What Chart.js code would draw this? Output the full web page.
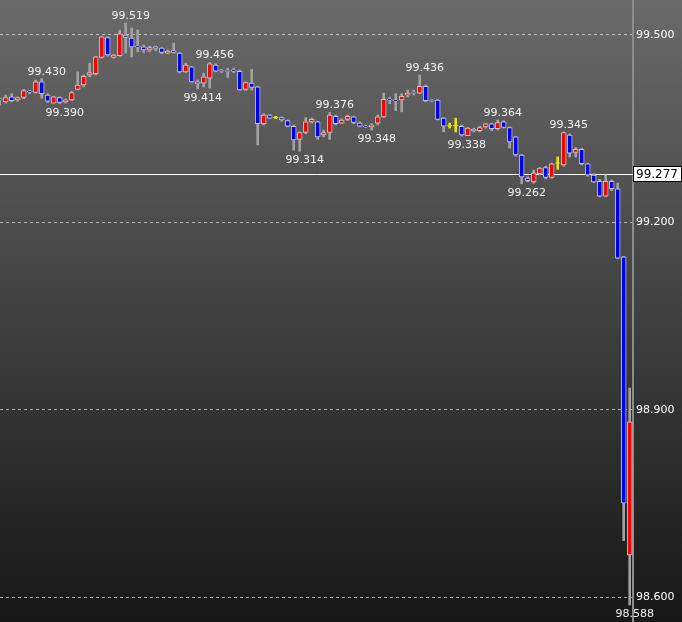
<!DOCTYPE html>
<html>
<head>
<meta charset="utf-8">
<script src="https://cdn.jsdelivr.net/npm/chart.js@4.4.0/dist/chart.umd.min.js"></script>
<style>
  html, body { margin: 0; padding: 0; background: #171717; }
  #wrap { width: 682px; height: 622px; }
</style>
</head>
<body>
<div id="wrap"><canvas id="chart" width="682" height="622"></canvas></div>
<script>
// candle values, one entry per bar (oldest first)
const opens = [99.398,99.393,99.401,99.396,99.400,99.410,99.408,99.425,99.404,99.391,
  99.400,99.393,99.396,99.413,99.420,99.436,99.438,99.464,99.496,99.464,
  99.467,99.500,99.495,99.482,99.481,99.476,99.481,99.479,99.471,99.475,
  99.471,99.441,99.449,99.425,99.423,99.431,99.452,99.443,99.443,99.444,
  99.442,99.413,99.423,99.417,99.358,99.372,99.368,99.368,99.363,99.354,
  99.333,99.344,99.361,99.361,99.340,99.344,99.370,99.359,99.365,99.369,
  99.359,99.354,99.353,99.359,99.369,99.397,99.396,99.396,99.404,99.408,
  99.407,99.418,99.395,99.396,99.367,99.355,99.355,99.354,99.339,99.349,
  99.347,99.353,99.358,99.350,99.361,99.352,99.337,99.308,99.271,99.265,
  99.278,99.288,99.272,99.295,99.292,99.340,99.312,99.317,99.294,99.276,
  99.266,99.242,99.266,99.254,99.145,98.668];
const highs = [99.399,99.404,99.406,99.401,99.413,99.412,99.428,99.430,99.406,99.402,
  99.401,99.398,99.410,99.441,99.436,99.455,99.466,99.498,99.497,99.469,
  99.508,99.519,99.511,99.508,99.484,99.482,99.482,99.480,99.476,99.487,
  99.472,99.455,99.450,99.428,99.439,99.456,99.454,99.445,99.447,99.447,
  99.444,99.425,99.445,99.418,99.374,99.373,99.370,99.369,99.364,99.356,
  99.345,99.368,99.367,99.362,99.348,99.376,99.372,99.366,99.372,99.370,
  99.361,99.356,99.358,99.372,99.407,99.400,99.406,99.406,99.412,99.412,
  99.436,99.420,99.397,99.397,99.368,99.359,99.367,99.356,99.352,99.351,
  99.354,99.359,99.359,99.364,99.363,99.353,99.338,99.309,99.273,99.284,
  99.288,99.290,99.295,99.305,99.345,99.342,99.320,99.319,99.295,99.278,
  99.269,99.276,99.268,99.263,99.146,98.935];
const lows = [99.388,99.391,99.393,99.394,99.398,99.406,99.407,99.399,99.392,99.391,
  99.390,99.391,99.395,99.412,99.417,99.433,99.436,99.463,99.466,99.463,
  99.466,99.471,99.465,99.473,99.472,99.473,99.475,99.470,99.470,99.471,
  99.439,99.440,99.424,99.414,99.417,99.415,99.441,99.440,99.432,99.440,
  99.411,99.411,99.412,99.324,99.356,99.366,99.366,99.362,99.353,99.316,
  99.314,99.342,99.359,99.333,99.337,99.333,99.356,99.358,99.363,99.358,
  99.353,99.352,99.348,99.356,99.368,99.390,99.379,99.377,99.401,99.404,
  99.406,99.393,99.393,99.364,99.345,99.351,99.345,99.338,99.339,99.345,
  99.345,99.351,99.347,99.348,99.351,99.319,99.306,99.262,99.265,99.263,
  99.276,99.270,99.271,99.285,99.290,99.305,99.305,99.292,99.274,99.264,
  99.241,99.241,99.251,99.142,98.691,98.588];
const closes = [99.396,99.400,99.395,99.400,99.411,99.409,99.425,99.406,99.394,99.401,
  99.392,99.396,99.408,99.420,99.434,99.440,99.465,99.497,99.468,99.468,
  99.502,99.496,99.481,99.481,99.476,99.480,99.479,99.472,99.474,99.472,
  99.441,99.452,99.425,99.422,99.433,99.454,99.442,99.442,99.442,99.442,
  99.412,99.424,99.416,99.358,99.372,99.367,99.368,99.364,99.354,99.332,
  99.344,99.361,99.365,99.337,99.344,99.372,99.358,99.364,99.370,99.360,
  99.354,99.353,99.356,99.369,99.397,99.396,99.395,99.402,99.407,99.407,
  99.418,99.395,99.394,99.365,99.354,99.355,99.355,99.340,99.351,99.347,
  99.352,99.358,99.350,99.360,99.352,99.329,99.308,99.273,99.267,99.279,
  99.287,99.272,99.294,99.295,99.344,99.311,99.317,99.294,99.276,99.265,
  99.242,99.266,99.254,99.143,98.751,98.881];

// local highs / lows that get a price tag
const markers = [[7,'high'],[10,'low'],[21,'high'],[33,'low'],[35,'high'],[50,'low'],
  [55,'high'],[62,'low'],[70,'high'],[77,'low'],[83,'high'],[87,'low'],[94,'high'],[105,'low']];

const tickValues = [98.600, 98.900, 99.200, 99.500];
const lastPrice = 99.277;
const yMin = 98.5608, yMax = 99.556;
const xMin = 0.05, xMax = 105.55;

const UP = '#ff0000', DOWN = '#0000ff', FLAT = '#e6e600';
const FONT = '"DejaVu Sans", Verdana, sans-serif';

const idx = opens.map((_, i) => i);
const bodyColor = idx.map(i => closes[i] > opens[i] ? UP : (closes[i] < opens[i] ? DOWN : FLAT));
const wickColor = idx.map(i => closes[i] === opens[i] ? FLAT : '#a2a2a2');
const dojis = idx.filter(i => closes[i] === opens[i]);

const bgPlugin = {
  id: 'bg',
  beforeDraw(chart) {
    const { ctx, width, height } = chart;
    const g = ctx.createLinearGradient(0, 0, 0, height);
    g.addColorStop(0, '#6a6a6a');
    g.addColorStop(1, '#171717');
    ctx.save();
    ctx.fillStyle = g;
    ctx.fillRect(0, 0, width, height);
    ctx.restore();
  }
};

// white line at the last price, behind the candles
const priceLine = {
  id: 'priceLine',
  beforeDatasetsDraw(chart) {
    const { ctx, chartArea } = chart;
    const y = Math.round(chart.scales.y.getPixelForValue(lastPrice)) + 0.5;
    ctx.save();
    ctx.strokeStyle = '#ffffff';
    ctx.lineWidth = 1;
    ctx.beginPath();
    ctx.moveTo(chartArea.left, y);
    ctx.lineTo(chartArea.right, y);
    ctx.stroke();
    ctx.restore();
  },
  afterDraw(chart) {
    const { ctx, chartArea, width } = chart;
    const y = Math.round(chart.scales.y.getPixelForValue(lastPrice));
    ctx.save();
    ctx.fillStyle = '#ffffff';
    ctx.fillRect(chartArea.right, y - 8, width - chartArea.right, 16);
    ctx.strokeStyle = '#000000';
    ctx.lineWidth = 1;
    ctx.strokeRect(chartArea.right + 0.5, y - 7.5, width - chartArea.right - 1, 15);
    ctx.fillStyle = '#000000';
    ctx.font = '12px ' + FONT;
    ctx.textBaseline = 'middle';
    ctx.fillText(lastPrice.toFixed(3), chartArea.right + 3, y + 1);
    ctx.restore();
  }
};

const tagPlugin = {
  id: 'tags',
  afterDatasetsDraw(chart) {
    const { ctx } = chart;
    const xs = chart.scales.x, ys = chart.scales.y;
    ctx.save();
    ctx.font = '11px ' + FONT;
    ctx.fillStyle = '#f2f2f2';
    ctx.textAlign = 'center';
    ctx.textBaseline = 'middle';
    markers.forEach(([i, side]) => {
      const v = side === 'high' ? highs[i] : lows[i];
      const x = xs.getPixelForValue(i) + 5;
      const y = ys.getPixelForValue(v) + (side === 'high' ? -7 : 9);
      ctx.fillText(v.toFixed(3), x, y);
    });
    ctx.restore();
  }
};

new Chart(document.getElementById('chart'), {
  type: 'bar',
  data: {
    datasets: [
      {
        label: 'wick',
        data: idx.map(i => ({ x: i, y: [lows[i], highs[i]] })),
        backgroundColor: wickColor,
        barThickness: 2,
        grouped: false,
        order: 3
      },
      {
        label: 'body',
        data: idx.map(i => ({ x: i, y: [opens[i], closes[i]] })),
        backgroundColor: bodyColor,
        borderColor: '#c6c6c6',
        borderWidth: 1,
        borderSkipped: false,
        barThickness: 5,
        grouped: false,
        order: 2
      },
      {
        type: 'scatter',
        label: 'doji',
        data: dojis.map(i => ({ x: i, y: opens[i] })),
        pointStyle: 'line',
        radius: 2.5,
        borderColor: FLAT,
        borderWidth: 1,
        order: 1
      }
    ]
  },
  options: {
    responsive: false,
    animation: false,
    events: [],
    layout: { padding: 0, autoPadding: false },
    plugins: { legend: { display: false }, tooltip: { enabled: false } },
    scales: {
      x: { type: 'linear', min: xMin, max: xMax, display: false, offset: false },
      y: {
        position: 'right',
        min: yMin,
        max: yMax,
        afterBuildTicks: s => { s.ticks = tickValues.map(v => ({ value: v })); },
        afterFit: s => { s.width = 49; s.paddingTop = 0; s.paddingBottom = 0; },
        grid: { color: 'rgba(255,255,255,0.6)', drawTicks: false },
        border: { display: true, color: '#8c8c8c', width: 2, dash: [3, 3] },
        ticks: {
          padding: 3,
          color: '#ffffff',
          font: { family: FONT, size: 11 },
          callback: v => Number(v).toFixed(3)
        }
      }
    }
  },
  plugins: [bgPlugin, priceLine, tagPlugin]
});
</script>
</body>
</html>
